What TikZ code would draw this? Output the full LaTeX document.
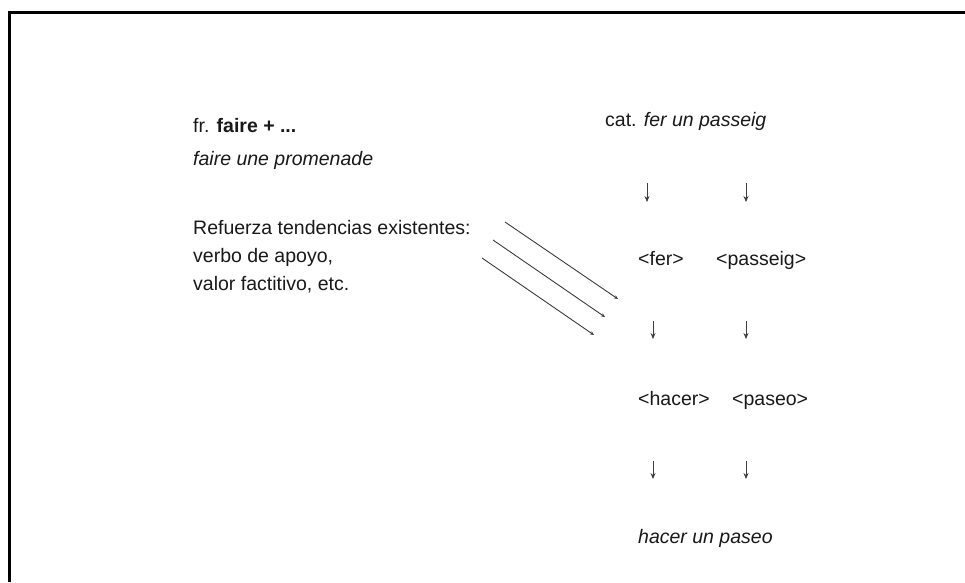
\documentclass[tikz,border=0pt]{standalone}
\usepackage{fontspec}
\setmainfont{Liberation Sans}
\usetikzlibrary{arrows.meta}
\definecolor{txt}{RGB}{25,25,25}
\definecolor{ln}{RGB}{60,60,60}
\begin{document}
\begin{tikzpicture}[x=1pt,y=-1pt,
  lbl/.style={anchor=base west,inner sep=0pt,text=txt,font=\fontsize{19.5}{23}\selectfont},
  diag/.style={draw=ln,line width=0.9pt,-{Stealth[length=4pt,width=3.5pt]}},
  dn/.style={draw=ln,line width=0.8pt,-{Stealth[length=6pt,width=5pt]}}]
\useasboundingbox (0,0) rectangle (965,582);
\fill[white] (0,0) rectangle (965,582);
\draw[line width=3pt,line join=miter] (9.5,582) -- (9.5,12.5) -- (965,12.5);
% left column
\node[lbl] (fr) at (193,132) {fr. \textbf{faire + ...}};
\node[lbl] (prom) at (193,165) {\itshape faire une promenade};
\node[lbl] (ref) at (193,234) {Refuerza tendencias existentes:};
\node[lbl] (verb) at (193,262) {verbo de apoyo,};
\node[lbl] (val) at (193,290) {valor factitivo, etc.};
% right column
\node[lbl] (cat) at (605,126) {cat. \itshape fer un passeig};
\node[lbl] (fer) at (638,265) {<fer>};
\node[lbl] (pas) at (716,265) {<passeig>};
\node[lbl] (hac) at (638,405) {<hacer>};
\node[lbl] (pso) at (732,405) {<paseo>};
\node[lbl] (hup) at (638,543) {\itshape hacer un paseo};
% down arrows
\coordinate (a1s) at (647,183); \coordinate (a1e) at (647,202);
\coordinate (b1s) at (746,183); \coordinate (b1e) at (746,202);
\coordinate (a2s) at (653,321); \coordinate (a2e) at (653,339);
\coordinate (b2s) at (746,321); \coordinate (b2e) at (746,339);
\coordinate (a3s) at (653,461); \coordinate (a3e) at (653,479);
\coordinate (b3s) at (746,461); \coordinate (b3e) at (746,479);
\foreach \p in {a1,b1,a2,b2,a3,b3} \draw[dn] (\p s) -- (\p e);
% diagonal arrows
\coordinate (d1s) at (505,222); \coordinate (d1e) at (618,299);
\coordinate (d2s) at (493,240); \coordinate (d2e) at (605,317);
\coordinate (d3s) at (482,258); \coordinate (d3e) at (594,335);
\foreach \p in {d1,d2,d3} \draw[diag] (\p s) -- (\p e);
\end{tikzpicture}
\end{document}
